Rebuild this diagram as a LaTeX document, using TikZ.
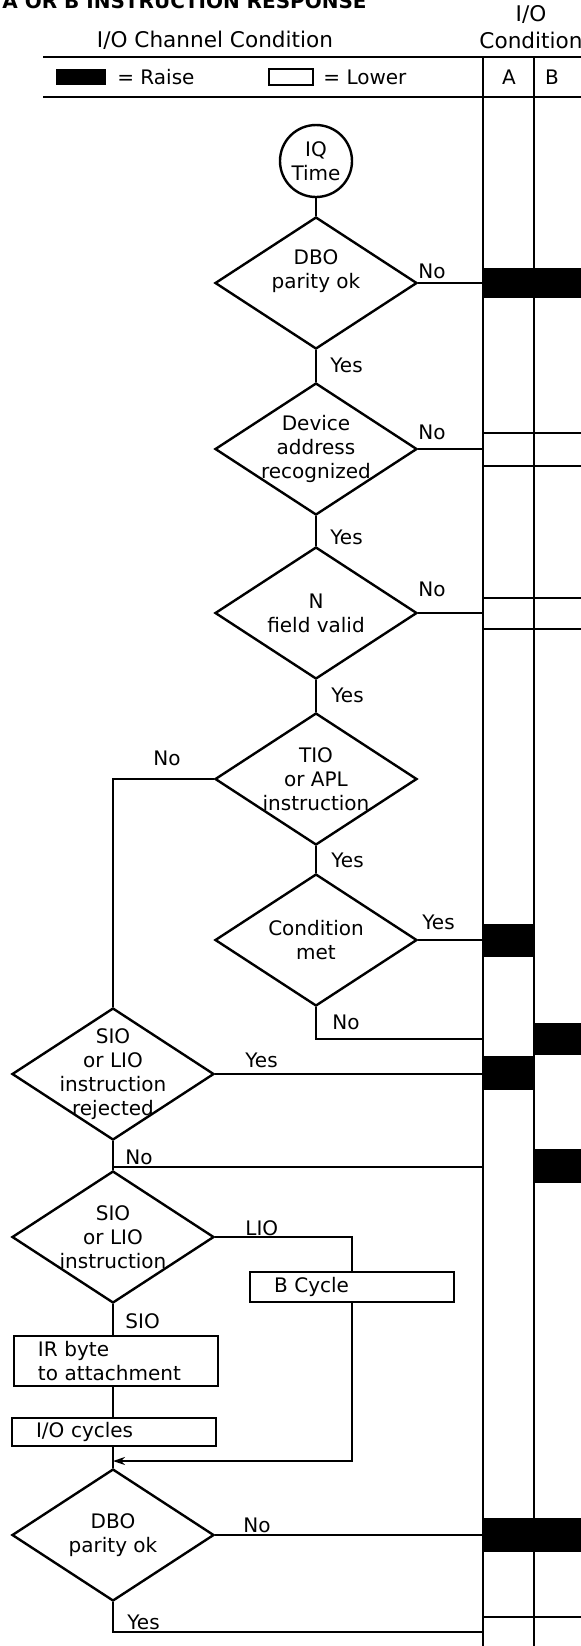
\documentclass[tikz,border=0pt]{standalone}
\usepackage{fontspec}
\setmainfont{DejaVu Sans}
\usetikzlibrary{shapes.geometric,arrows.meta}
\tikzstyle{decision}=[diamond,draw=black,line width=1.2pt,shape aspect=1.5,
                      inner sep=-8pt,minimum width=101pt,minimum height=66pt,
                      align=center]
\tikzstyle{terminal}=[circle,draw=black,line width=1.2pt,
                      inner sep=0pt,minimum size=36pt,align=center]
\tikzstyle{process}=[rectangle,draw=black,line width=1.2pt,align=left,
                     inner xsep=12pt,inner ysep=1pt,text width=78pt,
                     minimum height=15pt]
\tikzstyle{flow}=[draw=black,line width=1pt]
\tikzstyle{raise}=[fill=black]
\tikzstyle{answer}=[anchor=west,inner sep=0pt]
\tikzstyle{heading}=[font=\fontsize{10.8}{13.5}\selectfont,align=center]

\begin{document}
\begin{tikzpicture}[x=0.5pt,y=-0.5pt,font=\fontsize{10}{12}\selectfont]
    \newcommand{\colA}{483}
    \newcommand{\colB}{534}
    \newcommand{\colE}{581}
    \useasboundingbox (0,0) rectangle (\colE,1646);

    % heading and key
    \node (title) at (2,8) [anchor=base west,inner sep=0pt,
      font=\fontsize{10}{12}\selectfont\bfseries]{A OR B INSTRUCTION RESPONSE};
    \node (chan) at (215,40) [heading]{I/O Channel Condition};
    \node (iocond) at (531,27) [heading]{I/O\\Condition};
    \draw[flow] (43,57) -- (\colE,57);
    \draw[flow] (43,97) -- (\colE,97);
    \draw[flow] (\colA,57) -- (\colA,1646);
    \draw[flow] (\colB,57) -- (\colB,1646);
    \fill[raise] (56,69) rectangle (106,85);
    \node (raisekey) at (117,77) [answer]{= Raise};
    \draw[line width=1.2pt] (269,69) rectangle (313,85);
    \node (lowerkey) at (323,77) [answer]{= Lower};
    \node (colAname) at (509,77) {A};
    \node (colBname) at (552,77) {B};

    % A and B lines
    \fill[raise] (\colA,268) rectangle (\colE,298);
    \draw[flow] (\colA,433) -- (\colE,433) (\colA,466) -- (\colE,466);
    \draw[flow] (\colA,598) -- (\colE,598) (\colA,629) -- (\colE,629);
    \fill[raise] (\colA,924) rectangle (\colB,957);
    \fill[raise] (\colB,1023) rectangle (\colE,1055);
    \fill[raise] (\colA,1056) rectangle (\colB,1090);
    \fill[raise] (\colB,1149) rectangle (\colE,1183);
    \fill[raise] (\colA,1518) rectangle (\colE,1552);
    \draw[flow] (\colA,1617) -- (\colE,1617);

    % flow
    \node (iq) at (316,161) [terminal]{IQ\\Time};
    \node (d1) at (316,283) [decision]{};
    \node (d1text) at ([yshift=6pt]d1.center) [align=center]{DBO\\parity ok};
    \node (d2) at (316,449) [decision]{Device\\address\\recognized};
    \node (d3) at (316,613) [decision]{N\\field valid};
    \node (d4) at (316,779) [decision]{TIO\\or APL\\instruction};
    \node (d5) at (316,940) [decision]{Condition\\met};
    \node (d6) at (113,1074) [decision]{SIO\\or LIO\\instruction\\rejected};
    \node (d7) at (113,1237) [decision]{SIO\\or LIO\\instruction};
    \node (irbyte) at (116,1361) [process,minimum height=25pt]{IR byte\\to attachment};
    \node (iocyc) at (114,1432) [process,minimum height=14pt]{I/O cycles};
    \node (bcyc) at (352,1287) [process]{B Cycle};
    \node (d8) at (113,1535) [decision]{DBO\\parity ok};
    \coordinate (colA) at (\colA,0);
    \coordinate (metno) at (\colA,1039);
    \coordinate (rejno) at (\colA,1167);
    \coordinate (join) at (113,1461);
    \coordinate (okyes) at (\colA,1632);

    \draw[flow] (iq) -- (d1);
    \draw[flow] (d1) -- (d2);
    \draw[flow] (d2) -- (d3);
    \draw[flow] (d3) -- (d4);
    \draw[flow] (d4) -- (d5);
    \draw[flow] (d1.east) -- (d1.east -| colA);
    \draw[flow] (d2.east) -- (d2.east -| colA);
    \draw[flow] (d3.east) -- (d3.east -| colA);
    \draw[flow] (d4.west) -| (d6.north);
    \draw[flow] (d5.east) -- (d5.east -| colA);
    \draw[flow] (d5.south) |- (metno);
    \draw[flow] (d6.east) -- (d6.east -| colA);
    \draw[flow] (d6.south) -- (d7.north);
    \draw[flow] (d6.south |- rejno) -- (rejno);
    \draw[flow] (d7.east) -| (bcyc.north);
    \draw[flow] (d7.south) -- (d7.south |- irbyte.north);
    \draw[flow] (d7.south |- irbyte.south) -- (d7.south |- iocyc.north);
    \draw[flow] (d7.south |- iocyc.south) -- (d8.north);
    \draw[flow,-{Stealth[length=6pt,width=4pt]}] (bcyc.south) |- (join);
    \draw[flow] (d8.east) -- (d8.east -| colA);
    \draw[flow] (d8.south) |- (okyes);

    \node (no1) at (418,271) [answer]{No};
    \node (yes1) at (330,365) [answer]{Yes};
    \node (no2) at (418,432) [answer]{No};
    \node (yes2) at (330,537) [answer]{Yes};
    \node (no3) at (418,589) [answer]{No};
    \node (yes3) at (331,695) [answer]{Yes};
    \node (no4) at (153,758) [answer]{No};
    \node (yes4) at (331,860) [answer]{Yes};
    \node (yes5) at (422,922) [answer]{Yes};
    \node (no5) at (332,1022) [answer]{No};
    \node (yes6) at (245,1060) [answer]{Yes};
    \node (no6) at (125,1157) [answer]{No};
    \node (lio) at (245,1228) [answer]{LIO};
    \node (sio) at (125,1321) [answer]{SIO};
    \node (no8) at (243,1525) [answer]{No};
    \node (yes8) at (127,1622) [answer]{Yes};
  \end{tikzpicture}
\end{document}
